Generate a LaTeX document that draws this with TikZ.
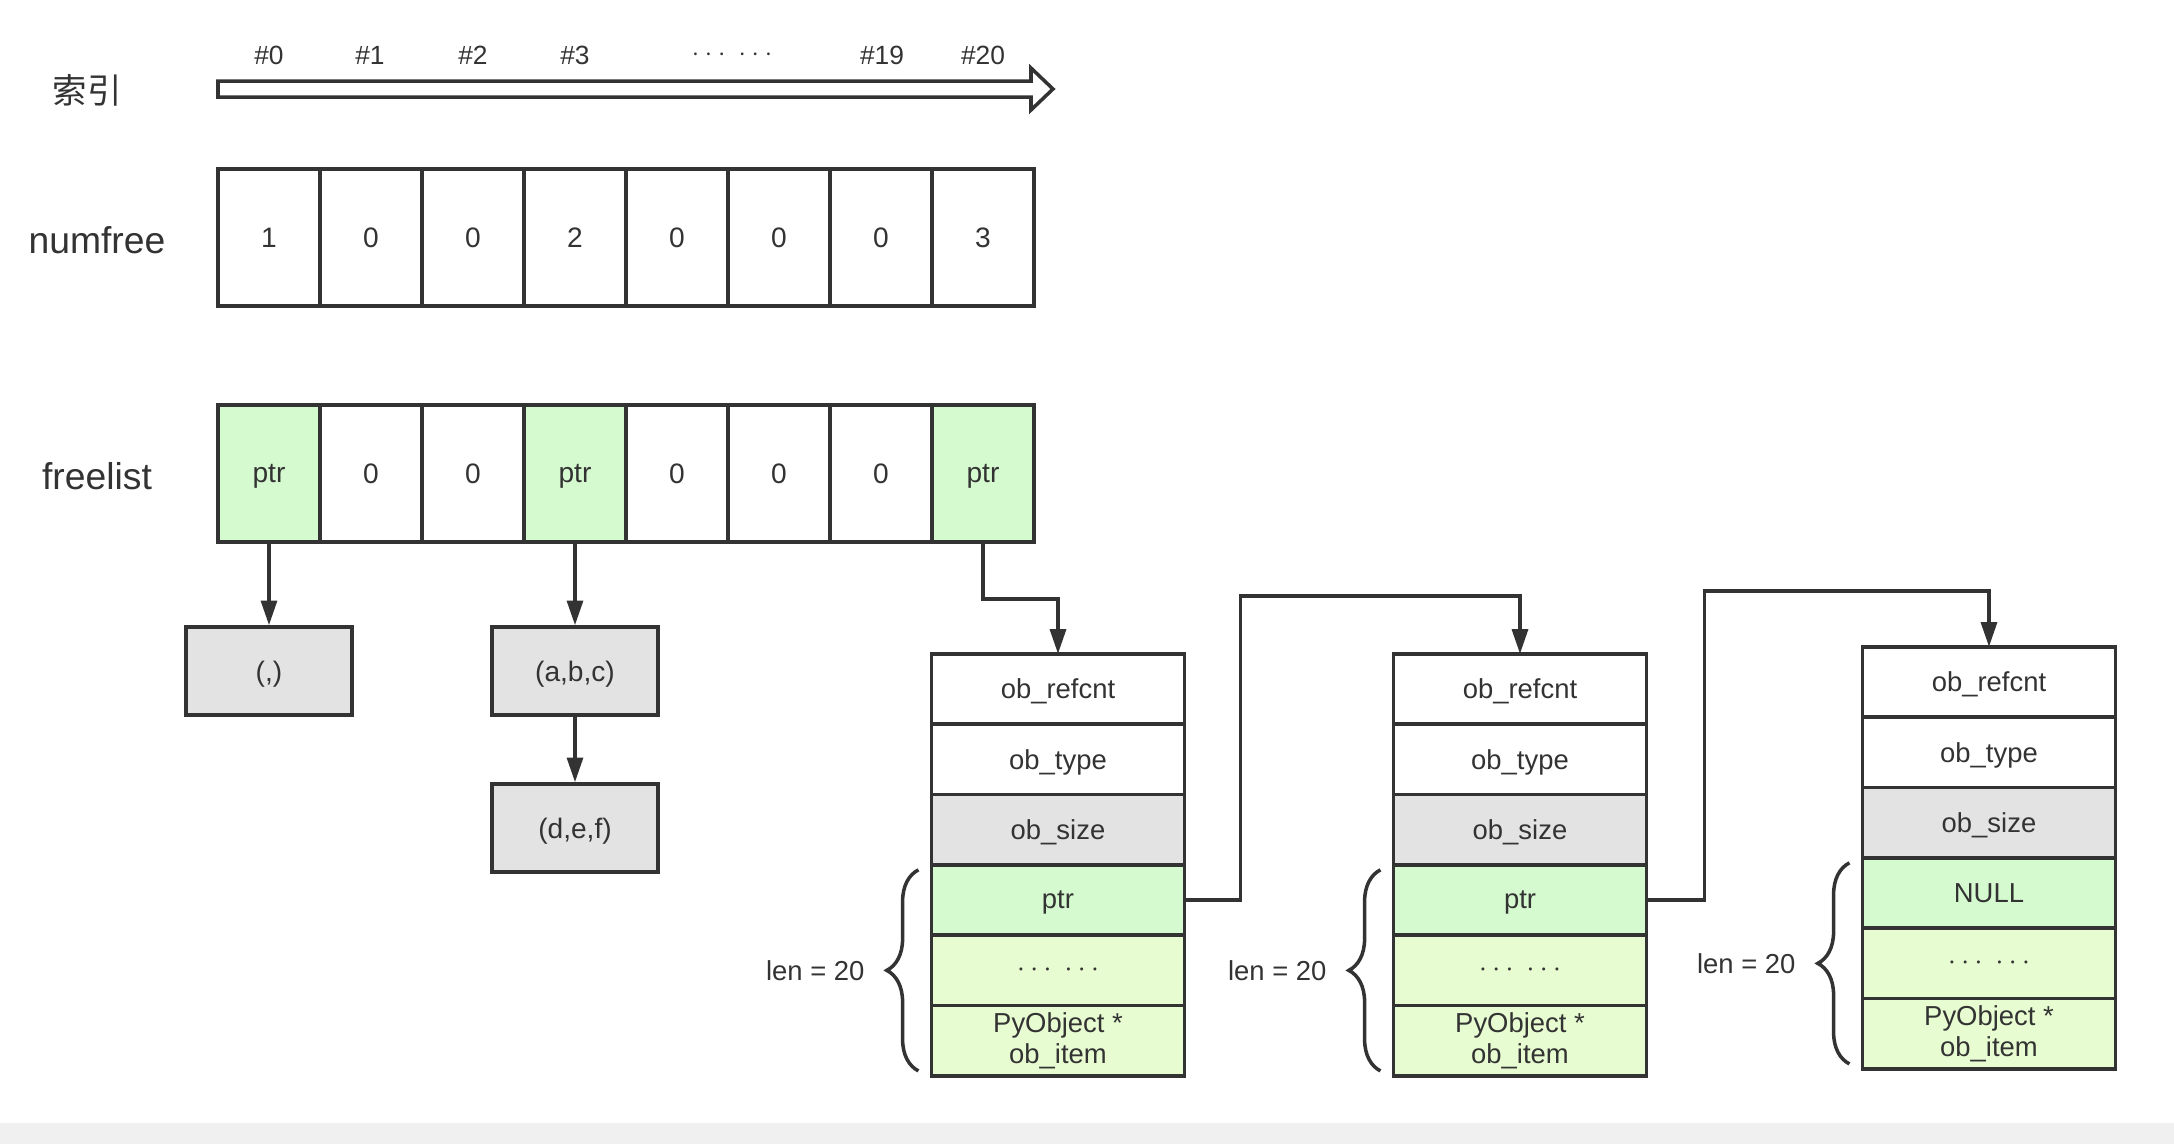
\documentclass[tikz,border=0pt]{standalone}
\usepackage{fontspec}
\setmainfont{Liberation Sans}
\newfontfamily\cjk{Noto Sans CJK SC}
\usetikzlibrary{arrows.meta, positioning, calc, decorations.pathreplacing}
\usepackage{xcolor}
\definecolor{ink}{RGB}{51,51,51}
\definecolor{ptrgreen}{RGB}{214,250,208}
\definecolor{itemgreen}{RGB}{232,252,210}
\definecolor{boxgray}{RGB}{227,227,227}
\definecolor{bandgray}{RGB}{240,240,240}

\begin{document}
\begin{tikzpicture}[x=0.01cm, y=-0.01cm,
  every node/.style={text=ink},
  cell/.style={draw=ink, line width=1pt, minimum width=1.02cm, minimum height=1.37cm,
               inner sep=0pt, outer sep=0pt, text depth=0pt, font=\fontsize{8}{9}\selectfont},
  ptrcell/.style={cell, fill=ptrgreen},
  rowlbl/.style={font=\fontsize{10.6}{12}\selectfont},
  idxlbl/.style={font=\fontsize{7.5}{9}\selectfont},
  tup/.style={draw=ink, line width=1pt, fill=boxgray, minimum width=1.66cm,
              minimum height=0.88cm, text depth=0pt, font=\fontsize{8}{9}\selectfont},
  field/.style={draw=ink, line width=1pt, minimum width=2.53cm, minimum height=0.703cm,
                inner sep=0pt, outer sep=0pt, align=center, font=\fontsize{7.8}{8.6}\selectfont},
  arr/.style={-{Triangle[length=7pt, width=4.5pt]}, line width=1pt, draw=ink},
  lenbrace/.style={decorate, decoration={brace, amplitude=9pt}, line width=1pt, draw=ink}
]
\useasboundingbox (0,0) rectangle (2174,1144);
\fill[white] (0,0) rectangle (2174,1144);
\fill[bandgray] (0,1123) rectangle (2174,1144);

% index arrow
\node[font=\cjk\fontsize{9.8}{11}\selectfont] (idx) at (87,90) {索引};
\draw[ink, line width=1pt] (218,81) -- (1031,81) -- (1031,68) -- (1053,89)
  -- (1031,110) -- (1031,97) -- (218,97) -- cycle;
\foreach \x/\t in {269/\#0, 370/\#1, 473/\#2, 575/\#3, 732/{$\cdots\ \cdots$}, 882/\#19, 983/\#20}
  \node[idxlbl] (idx-\x) at (\x,55) {\t};

% numfree / freelist
\node[rowlbl] (nflbl) at (97,240) {numfree};
\node[rowlbl] (fllbl) at (97,476) {freelist};
\foreach \v [count=\i from 0] in {1,0,0,2,0,0,0,3}
  \node[cell] (nf\i) at ({269+102*\i},237.5) {\v};
\foreach \v/\sty [count=\i from 0] in {ptr/ptrcell, 0/cell, 0/cell, ptr/ptrcell,
                                       0/cell, 0/cell, 0/cell, ptr/ptrcell}
  \node[\sty] (fl\i) at ({269+102*\i},473.5) {\v};

% tuples
\node[tup] (t0)  at (269,671) {(,)};
\node[tup] (t3a) at (575,671) {(a,b,c)};
\node[tup] (t3b) at (575,828) {(d,e,f)};
\draw[arr] (fl0) -- (t0);
\draw[arr] (fl3) -- (t3a);
\draw[arr] (t3a) -- (t3b);

% tuple objects
\foreach \s/\x/\y/\p in {1/1058/689/ptr, 2/1520/689/ptr, 3/1989/682/NULL} {
  \node[field, text depth=0pt] (s\s-ref) at (\x,\y) {ob\_refcnt};
  \node[field, text depth=0pt, below=0pt of s\s-ref] (s\s-type) {ob\_type};
  \node[field, text depth=0pt, fill=boxgray, below=0pt of s\s-type] (s\s-size) {ob\_size};
  \node[field, text depth=0pt, fill=ptrgreen, below=0pt of s\s-size] (s\s-ptr) {\p};
  \node[field, fill=itemgreen, below=0pt of s\s-ptr] (s\s-dots) {$\cdots\ \cdots$};
  \node[field, fill=itemgreen, below=0pt of s\s-dots] (s\s-item) {PyObject *\\ob\_item};
  \draw[lenbrace] ($(s\s-item.south west)+(-13,-5)$) -- ($(s\s-ptr.north west)+(-13,5)$)
    node[midway, left=11.5pt, font=\fontsize{7.8}{9}\selectfont] (s\s-len) {len = 20};
}
\draw[arr] (fl7.south) -- ++(0,57) -| (s1-ref.north);
\draw[arr] (s1-ptr.east) -| ++(56,-304) -| (s2-ref.north);
\draw[arr] (s2-ptr.east) -| ++(58,-309) -| (s3-ref.north);
\end{tikzpicture}
\end{document}
